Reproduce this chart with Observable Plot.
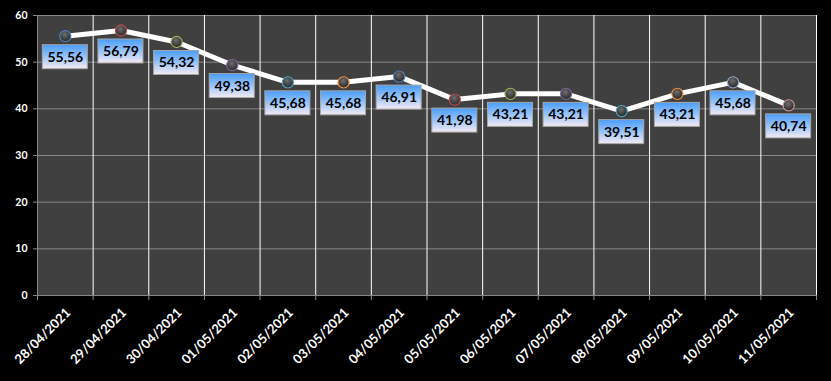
<!DOCTYPE html>
<html>
<head>
<meta charset="utf-8">
<script src="https://cdn.jsdelivr.net/npm/d3@7"></script>
<script src="https://cdn.jsdelivr.net/npm/@observablehq/plot@0.6"></script>
<style>
  html, body { margin: 0; padding: 0; background: #000; }
  #chart svg { display: block; }
</style>
</head>
<body>
<div id="chart"></div>
<script>
const dates = ["28/04/2021","29/04/2021","30/04/2021","01/05/2021","02/05/2021","03/05/2021","04/05/2021","05/05/2021","06/05/2021","07/05/2021","08/05/2021","09/05/2021","10/05/2021","11/05/2021"];
const values = [55.56, 56.79, 54.32, 49.38, 45.68, 45.68, 46.91, 41.98, 43.21, 43.21, 39.51, 43.21, 45.68, 40.74];
const markerColors = ["#4F81BD","#C0504D","#9BBB59","#8064A2","#4BACC6","#F79646","#4F81BD","#C0504D","#9BBB59","#8064A2","#4BACC6","#F79646","#95A9CF","#D49A98"];
const yTicks = [0, 10, 20, 30, 40, 50, 60];

const n = dates.length;
const data = dates.map((d, i) => ({i, date: d, value: values[i], color: markerColors[i]}));
const bounds = d3.range(n + 1).map(k => k - 0.5);
const fmt = v => v.toFixed(2).replace(".", ",");
const font = "Lato, 'Open Sans', sans-serif";

const svg = Plot.plot({
  width: 831,
  height: 381,
  marginLeft: 37,
  marginRight: 15,
  marginTop: 15,
  marginBottom: 86,
  style: {background: "#000", fontFamily: font},
  x: {type: "linear", domain: [-0.5, n - 0.5], axis: null},
  y: {domain: [0, 60], axis: null},
  marks: [
    Plot.frame({fill: "#404040", stroke: "none"}),
    Plot.ruleY(yTicks, {stroke: "#878787", strokeWidth: 1, strokeOpacity: 1}),
    Plot.ruleX(bounds.slice(1), {stroke: "#ffffff", strokeWidth: 1}),
    Plot.ruleX(bounds.slice(0, 1), {stroke: "#878787", strokeWidth: 1}),
    Plot.axisX(bounds, {tickSize: 5, tickFormat: () => "", label: null, stroke: "#878787", strokeOpacity: 1}),
    Plot.axisY(yTicks, {tickSize: 4, tickPadding: 6, label: null, stroke: "#878787", strokeOpacity: 1, fill: "#ffffff", fontWeight: "bold", fontSize: 10.5, fontFamily: font}),
    Plot.text(data, {x: "i", text: "date", frameAnchor: "bottom", rotate: -45, textAnchor: "end", dx: 6, dy: 18, fill: "#ffffff", fontWeight: "bold", fontSize: 13, fontFamily: font}),
    Plot.line(data, {x: "i", y: "value", stroke: "#ffffff", strokeWidth: 5}),
    Plot.dot(data, {x: "i", y: "value", r: 5.6, fill: "url(#ball)", stroke: "color", strokeWidth: 1.1}),
    Plot.rect(data, {x1: "i", x2: "i", y1: "value", y2: "value", insetLeft: -22.5, insetRight: -22.5, insetTop: -12, insetBottom: -12, dy: 21, fill: "url(#lbl)", stroke: "#a6a6a6", strokeWidth: 1}),
    Plot.text(data, {x: "i", y: "value", text: d => fmt(d.value), dy: 21, fill: "#000", fontWeight: "bold", fontSize: 14, fontFamily: font})
  ]
});

const defs = d3.select(svg).insert("defs", ":first-child");
const lg = defs.append("linearGradient").attr("id", "lbl").attr("x1", 0).attr("y1", 0).attr("x2", 0).attr("y2", 1);
lg.append("stop").attr("offset", "0%").attr("stop-color", "#4a9dfb");
lg.append("stop").attr("offset", "45%").attr("stop-color", "#8fc0fa");
lg.append("stop").attr("offset", "100%").attr("stop-color", "#f6ebf3");
const rg = defs.append("radialGradient").attr("id", "ball").attr("cx", "45%").attr("cy", "35%").attr("r", "65%");
rg.append("stop").attr("offset", "0%").attr("stop-color", "#6e6e6e");
rg.append("stop").attr("offset", "100%").attr("stop-color", "#262626");

document.getElementById("chart").appendChild(svg);
</script>
</body>
</html>
